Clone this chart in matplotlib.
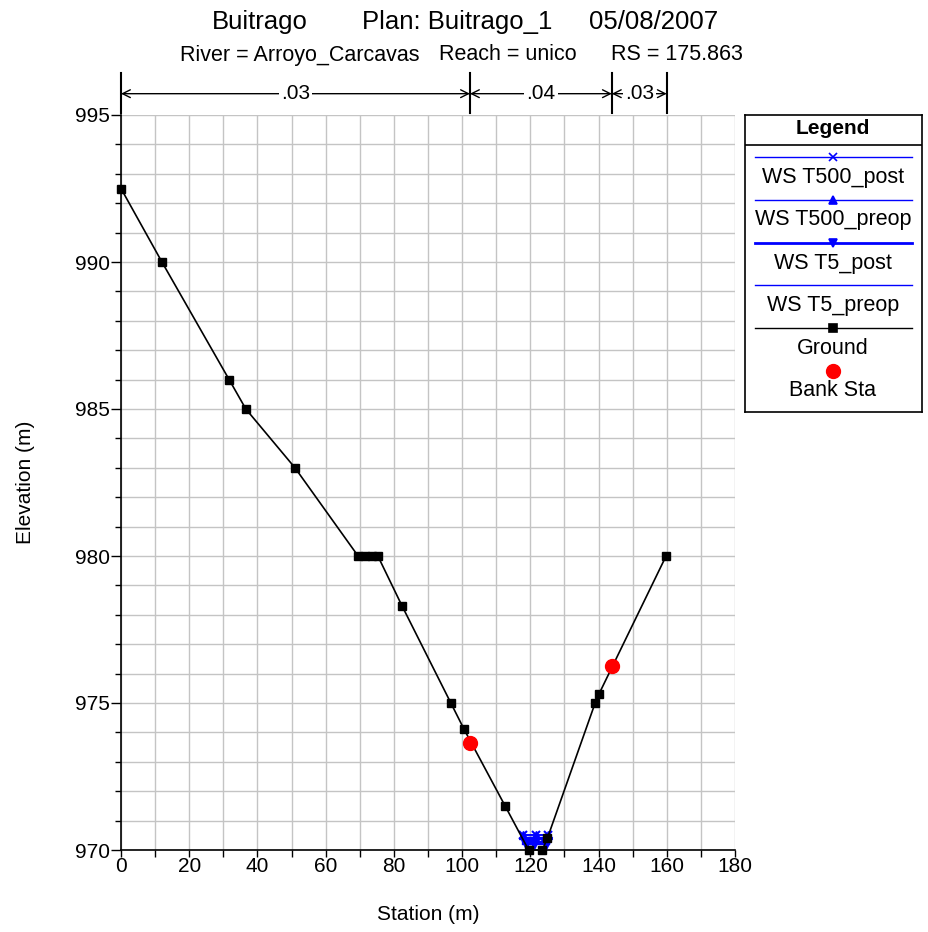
import numpy as np
import matplotlib.pyplot as plt
from matplotlib.ticker import MultipleLocator

plt.rcParams['font.family'] = ['Liberation Sans', 'DejaVu Sans']

# --- data ---
ground_sta = [0, 12.0, 31.7, 36.6, 51.0, 69.5, 71.5, 73.5, 75.3, 82.4, 96.7, 100.6,
              112.6, 119.5, 123.5, 125.0, 139.0, 140.1, 159.8]
ground_elev = [992.5, 990.0, 986.0, 985.0, 983.0, 980.0, 980.0, 980.0, 980.0, 978.3, 975.0, 974.1,
               971.5, 970.0, 970.0, 970.4, 975.0, 975.3, 980.0]
bank_sta = [102.3, 143.9]
bank_elev = [973.65, 976.25]

ws_t500_sta = [117.9, 121.7, 125.2]
ws_t500_post = 970.52
ws_t500_preop = 970.50
ws_t5_sta = [118.6, 121.0, 124.6]
ws_t5_post = 970.25
ws_t5_preop = 970.23

mann_breaks = [0, 102.3, 143.9, 160.0]
mann_n = ['.03', '.04', '.03']

W, H = 929, 932
fig = plt.figure(figsize=(W / 100, H / 100), dpi=100)
ax = fig.add_axes([121 / W, 1 - 850 / H, (735 - 121) / W, (850 - 115) / H])

ax.plot(ground_sta, ground_elev, color='black', lw=1.2, marker='s', ms=6, zorder=4, clip_on=False)
ax.plot(bank_sta, bank_elev, 'o', color='red', ms=10, zorder=5, lw=0)

# water surfaces
ax.plot([ws_t500_sta[0], ws_t500_sta[-1]], [ws_t500_post] * 2, color='blue', lw=1.2, zorder=3)
ax.plot(ws_t500_sta, [ws_t500_post] * 3, 'x', color='blue', ms=6, mew=1.5, zorder=3)
ax.plot([ws_t500_sta[0], ws_t500_sta[-1]], [ws_t500_preop] * 2, color='blue', lw=1.2, zorder=3)
ax.plot(ws_t500_sta, [ws_t500_preop] * 3, '^', color='blue', ms=6, zorder=3)
ax.plot([ws_t5_sta[0] - 0.6, ws_t5_sta[-1] + 0.6], [ws_t5_post] * 2, color='blue', lw=3, zorder=3)
ax.plot(ws_t5_sta, [ws_t5_post] * 3, 'v', color='blue', ms=8, zorder=3)
ax.plot([ws_t5_sta[0] - 0.6, ws_t5_sta[-1] + 0.6], [ws_t5_preop] * 2, color='blue', lw=3, zorder=3)

ax.set_xlim(0, 180)
ax.set_ylim(970, 995)
ax.xaxis.set_major_locator(MultipleLocator(20))
ax.xaxis.set_minor_locator(MultipleLocator(10))
ax.yaxis.set_major_locator(MultipleLocator(5))
ax.yaxis.set_minor_locator(MultipleLocator(1))
ax.grid(True, which='both', color='#c4c4c4', lw=1)
ax.set_axisbelow(True)
for s in ['top', 'right']:
    ax.spines[s].set_visible(False)
ax.spines['left'].set_linewidth(1.2)
ax.spines['bottom'].set_linewidth(1.2)
ax.tick_params(labelsize=15, direction='out')
ax.tick_params(axis='x', which='both', length=5, width=1, pad=0)
ax.tick_params(axis='y', which='major', length=7, width=1, pad=1)
ax.tick_params(axis='y', which='minor', length=4, width=1)

fig.text(428 / W, 1 - 914 / H, 'Station (m)', ha='center', va='center', fontsize=15)
fig.text(26 / W, 1 - 482 / H, 'Elevation (m)', ha='center', va='center', fontsize=15,
         rotation=90)

# Manning's n bar above the plot
trans = ax.get_xaxis_transform()
for b in mann_breaks:
    ax.plot([b, b], [1.003, 1.057], color='black', lw=1.5, transform=trans, clip_on=False)
for i, n in enumerate(mann_n):
    x0, x1 = mann_breaks[i], mann_breaks[i + 1]
    ax.annotate('', xy=(x0, 1.029), xytext=(x1, 1.029), xycoords=trans, textcoords=trans,
                arrowprops=dict(arrowstyle='<->', lw=1, color='black', shrinkA=0, shrinkB=0,
                                mutation_scale=14))
    ax.text((x0 + x1) / 2, 1.029, n, transform=trans, ha='center', va='center', fontsize=15,
            bbox=dict(facecolor='white', edgecolor='none', pad=1.5))

# title pieces
ty = 1 - 22 / H
fig.text(212 / W, ty, 'Buitrago', ha='left', va='center', fontsize=18.5)
fig.text(362 / W, ty, 'Plan: Buitrago_1', ha='left', va='center', fontsize=18.5)
fig.text(718 / W, ty, '05/08/2007', ha='right', va='center', fontsize=18.5)
sy = 1 - 55 / H
fig.text(180 / W, sy, 'River = Arroyo_Carcavas', ha='left', va='center', fontsize=15.5)
fig.text(439 / W, sy, 'Reach = unico', ha='left', va='center', fontsize=15.5)
fig.text(743 / W, sy, 'RS = 175.863', ha='right', va='center', fontsize=15.5)

# legend box drawn in pixel coordinates
lg = fig.add_axes([745 / W, 1 - 412 / H, (922 - 745) / W, (412 - 115) / H])
lg.set_xlim(745, 922)
lg.set_ylim(412, 115)
lg.set_xticks([])
lg.set_yticks([])
for s in lg.spines.values():
    s.set_linewidth(1.2)
lg.axhline(145, color='black', lw=1.2)
lg.text(833, 129, 'Legend', ha='center', va='center', fontsize=15, fontweight='bold')
entries = [('WS T500_post', 'blue', 'x', 1), ('WS T500_preop', 'blue', '^', 1),
           ('WS T5_post', 'blue', 'v', 2), ('WS T5_preop', 'blue', None, 1),
           ('Ground', 'black', 's', 1)]
ys = [157, 200, 243, 285, 328]
for (lab, c, m, lw), y in zip(entries, ys):
    lg.plot([755, 912], [y, y], color=c, lw=lw)
    if m:
        lg.plot([833], [y], marker=m, color=c, ms=6, mew=1.2)
    lg.text(833, y + 20, lab, ha='center', va='center', fontsize=15.5)
lg.plot([833], [371], 'o', color='red', ms=10)
lg.text(833, 390, 'Bank Sta', ha='center', va='center', fontsize=15.5)

fig.savefig('out.png', dpi=100)
